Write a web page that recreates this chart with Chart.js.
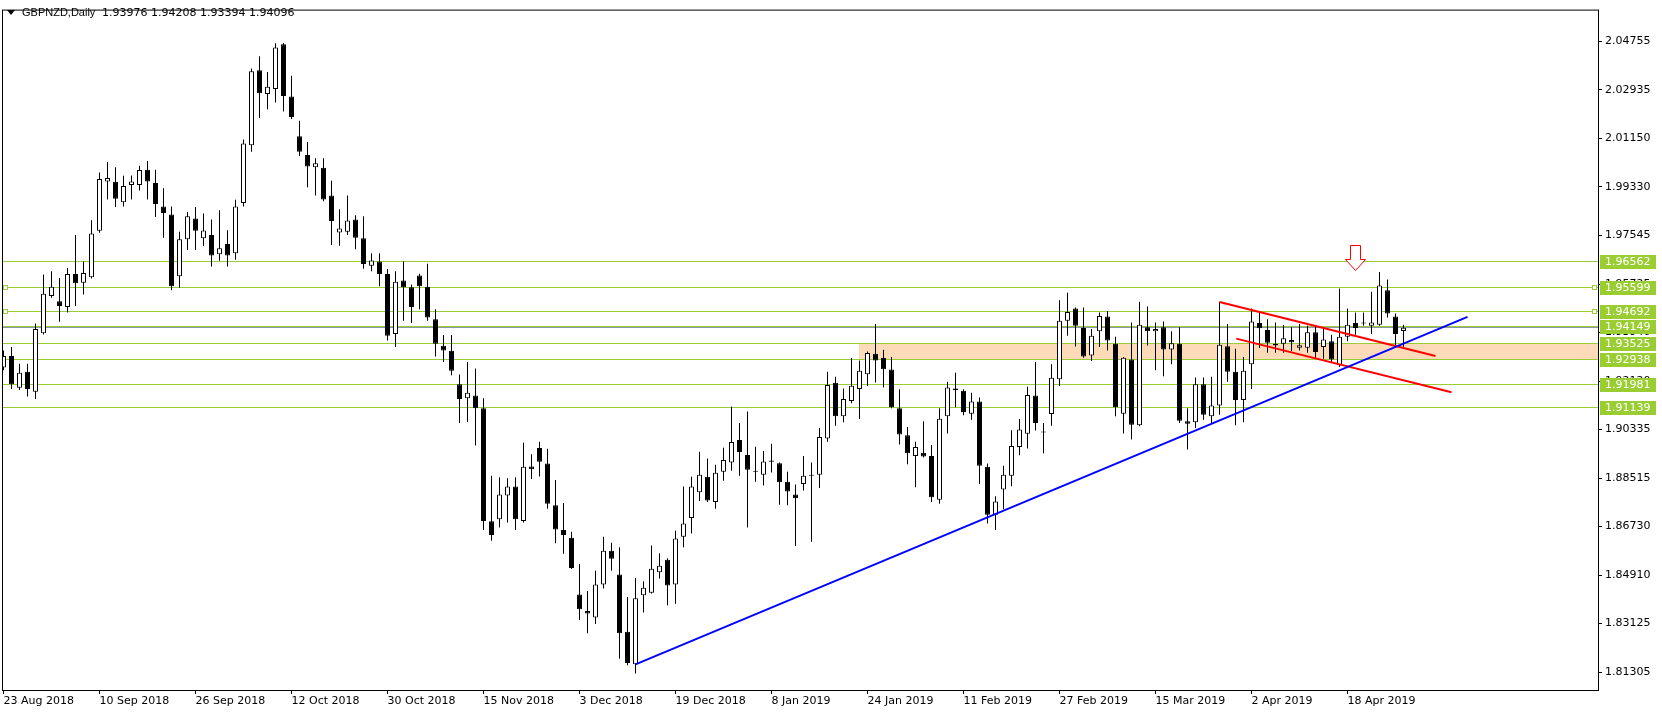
<!DOCTYPE html>
<html>
<head>
<meta charset="utf-8">
<title>GBPNZD Daily</title>
<script src="https://cdn.jsdelivr.net/npm/chart.js@4.4.1/dist/chart.umd.min.js"></script>
<style>
  html, body { margin: 0; padding: 0; background: #fff; }
  #wrap { width: 1662px; height: 714px; }
</style>
</head>
<body>
<div id="wrap"><canvas id="chart" width="1662" height="714"></canvas></div>
<script>
// daily candles, 23 Aug 2018 .. 29 Apr 2019 (index = trading day)
const opens = [
  1.92619, 1.93049, 1.91873, 1.92461, 1.91726, 1.93894, 1.95276, 1.95081, 1.94872, 1.96099,
  1.95769, 1.95974, 1.97702, 1.99539, 1.99528, 1.98767, 1.99407, 1.99407, 1.99969, 1.99480,
  1.98609, 1.98304, 1.96011, 1.97386, 1.98157, 1.97422, 1.97544, 1.96834, 1.97213, 1.96871,
  1.98731, 2.00877, 2.03670, 2.02788, 2.02972, 2.04636, 2.02689, 2.01219, 2.00520, 2.00068,
  2.00043, 1.99014, 1.97643, 1.97665, 1.98121, 1.97422, 1.96404, 1.96562, 1.96099, 1.93869,
  1.95853, 1.95607, 1.96037, 1.95622, 1.94420, 1.93428, 1.93244, 1.92005, 1.91480, 1.91579,
  1.91112, 1.86912, 1.86985, 1.87867, 1.88198, 1.86923, 1.88944, 1.89631, 1.89054, 1.87500,
  1.86581, 1.86298, 1.84192, 1.83579, 1.83332, 1.84560, 1.85809, 1.84927, 1.82807, 1.81594,
  1.84156, 1.84251, 1.85012, 1.85479, 1.84560, 1.86335, 1.87033, 1.87989, 1.88566, 1.87621,
  1.88749, 1.89091, 1.89925, 1.89374, 1.88786, 1.88639, 1.89165, 1.89065, 1.88382, 1.87904,
  1.88294, 1.88602, 1.88639, 1.89984, 1.92057, 1.90807, 1.91381, 1.91822, 1.92373, 1.93134,
  1.92976, 1.92546, 1.91112, 1.90109, 1.89337, 1.89459, 1.89337, 1.87706, 1.90807, 1.91847,
  1.91763, 1.90903, 1.91359, 1.88933, 1.87154, 1.88088, 1.88602, 1.89668, 1.90157, 1.91579,
  1.90249, 1.90892, 1.92189, 1.94357, 1.94813, 1.94089, 1.93071, 1.93968, 1.94519, 1.93501,
  1.90903, 1.92924, 1.90477, 1.94115, 1.93968, 1.94115, 1.93292, 1.93501, 1.90624, 1.90587,
  1.92005, 1.90807, 1.91212, 1.93416, 1.92461, 1.91417, 1.92740, 1.94273, 1.94016, 1.93501,
  1.93501, 1.93648, 1.93354, 1.93354, 1.93931, 1.93380, 1.93600, 1.92704, 1.93769, 1.94273,
  1.94299, 1.94174, 1.94210, 1.95497, 1.94519, 1.93976
];
const highs = [
  1.93255, 1.93380, 1.92766, 1.92766, 1.94262, 1.96074, 1.96195, 1.95952, 1.96320, 1.97544,
  1.96562, 1.98095, 1.99870, 2.00263, 2.00068, 1.99749, 1.99760, 2.00116, 2.00300, 1.99969,
  1.99282, 1.98609, 1.97665, 1.98400, 1.98584, 1.98341, 1.98121, 1.98462, 1.97727, 1.98856,
  2.01097, 2.03729, 2.04184, 2.03607, 2.04673, 2.04684, 2.03460, 2.01796, 2.00998, 2.00399,
  2.00399, 1.99565, 1.98499, 1.99014, 1.98279, 1.98242, 1.96871, 1.96871, 1.96283, 1.96195,
  1.96562, 1.95706, 1.96110, 1.96478, 1.94787, 1.93832, 1.93832, 1.92362, 1.92828, 1.92582,
  1.91480, 1.88602, 1.88540, 1.88503, 1.88540, 1.89826, 1.89396, 1.89863, 1.89606, 1.88440,
  1.87584, 1.86519, 1.85317, 1.84314, 1.85074, 1.86335, 1.86114, 1.85942, 1.84093, 1.84802,
  1.84681, 1.86004, 1.85721, 1.85537, 1.86555, 1.88198, 1.88566, 1.89495, 1.89238, 1.89007,
  1.89642, 1.91175, 1.90561, 1.90991, 1.89679, 1.89521, 1.89789, 1.89091, 1.88749, 1.88272,
  1.89337, 1.89091, 1.90377, 1.92461, 1.92277, 1.91847, 1.92976, 1.92887, 1.93218, 1.94236,
  1.93281, 1.93012, 1.91811, 1.90414, 1.89863, 1.90624, 1.89742, 1.91112, 1.92094, 1.92424,
  1.91811, 1.91689, 1.91506, 1.89054, 1.87842, 1.88970, 1.90293, 1.90708, 1.91910, 1.92828,
  1.90561, 1.92740, 1.95118, 1.95401, 1.94850, 1.94850, 1.94052, 1.94666, 1.94725, 1.93769,
  1.93012, 1.94299, 1.95070, 1.94887, 1.94299, 1.94335, 1.93968, 1.94115, 1.91112, 1.92252,
  1.92252, 1.92277, 1.95056, 1.94236, 1.93317, 1.93012, 1.94813, 1.94666, 1.94420, 1.94299,
  1.94199, 1.94115, 1.94236, 1.94174, 1.94199, 1.94052, 1.93843, 1.95559, 1.94813, 1.94666,
  1.94666, 1.95438, 1.96173, 1.95890, 1.94629, 1.94208
];
const lows = [
  1.92520, 1.91822, 1.91785, 1.91542, 1.91454, 1.93850, 1.95217, 1.94321, 1.94666, 1.94909,
  1.95339, 1.95927, 1.97628, 1.98867, 1.98584, 1.98609, 1.98867, 1.99197, 1.98867, 1.98216,
  1.97444, 1.95497, 1.95585, 1.96992, 1.96992, 1.97139, 1.96379, 1.96588, 1.96379, 1.96625,
  1.98609, 2.00642, 2.01891, 2.02222, 2.02468, 2.02137, 2.01854, 2.00484, 1.99319, 1.99014,
  1.98804, 1.97176, 1.97150, 1.97544, 1.97018, 1.96294, 1.96195, 1.95644, 1.93622, 1.93380,
  1.94357, 1.94273, 1.94787, 1.94357, 1.93034, 1.92828, 1.92336, 1.90561, 1.90598, 1.89727,
  1.86581, 1.86188, 1.86677, 1.86860, 1.86581, 1.86860, 1.88477, 1.88577, 1.87375, 1.86089,
  1.85699, 1.85133, 1.83237, 1.82744, 1.83090, 1.84413, 1.85074, 1.81804, 1.81557, 1.81252,
  1.83516, 1.84229, 1.84780, 1.83788, 1.83847, 1.85942, 1.86456, 1.87658, 1.87621, 1.87375,
  1.88419, 1.88786, 1.88602, 1.86677, 1.88382, 1.88235, 1.88724, 1.87522, 1.87500, 1.85993,
  1.88051, 1.86151, 1.88147, 1.89863, 1.90462, 1.90587, 1.91296, 1.90708, 1.91932, 1.92068,
  1.91884, 1.91112, 1.89764, 1.89029, 1.88172, 1.89275, 1.87621, 1.87559, 1.90168, 1.91149,
  1.90844, 1.90682, 1.88294, 1.86824, 1.86581, 1.87353, 1.88209, 1.89359, 1.89617, 1.90278,
  1.89433, 1.90462, 1.91932, 1.93806, 1.93402, 1.92987, 1.92865, 1.93380, 1.93255, 1.90807,
  1.90168, 1.89947, 1.90440, 1.93439, 1.92520, 1.92299, 1.92740, 1.90561, 1.89580, 1.90377,
  1.90682, 1.90535, 1.90866, 1.92094, 1.90476, 1.90587, 1.91822, 1.93343, 1.93170, 1.93170,
  1.93170, 1.93233, 1.93255, 1.93170, 1.92987, 1.92950, 1.92828, 1.92645, 1.93600, 1.93843,
  1.94174, 1.93869, 1.94174, 1.94482, 1.93416, 1.93394
];
const closes = [
  1.93049, 1.92005, 1.92424, 1.91822, 1.94052, 1.95364, 1.95622, 1.94909, 1.96099, 1.95754,
  1.96136, 1.97606, 1.99627, 1.99664, 1.98892, 1.99370, 1.99539, 1.99958, 1.99539, 1.98694,
  1.98363, 1.95644, 1.97386, 1.98242, 1.97702, 1.97716, 1.96783, 1.97055, 1.96783, 1.98609,
  2.00950, 2.03633, 2.02810, 2.03056, 2.04515, 2.02714, 2.01928, 2.00642, 2.00090, 2.00215,
  1.98867, 1.98069, 1.97790, 1.98084, 1.97444, 1.96467, 1.96599, 1.96099, 1.93806, 1.95805,
  1.95607, 1.94872, 1.95644, 1.94482, 1.93501, 1.93255, 1.92498, 1.91454, 1.91689, 1.91112,
  1.86923, 1.86397, 1.87904, 1.88198, 1.86985, 1.88933, 1.88845, 1.89117, 1.87559, 1.86603,
  1.86397, 1.85170, 1.83641, 1.83479, 1.84560, 1.85809, 1.85515, 1.82744, 1.81642, 1.84045,
  1.84435, 1.85148, 1.85258, 1.84523, 1.86272, 1.86824, 1.88198, 1.88639, 1.87684, 1.88713,
  1.89190, 1.89852, 1.89484, 1.88823, 1.88749, 1.89128, 1.89117, 1.88356, 1.88014, 1.87768,
  1.88602, 1.88605, 1.90036, 1.91969, 1.90807, 1.91454, 1.91947, 1.92498, 1.93159, 1.92887,
  1.92557, 1.91149, 1.90131, 1.89433, 1.89668, 1.89312, 1.87805, 1.90719, 1.91884, 1.91785,
  1.90965, 1.91359, 1.88970, 1.87154, 1.87647, 1.88639, 1.89705, 1.90315, 1.91601, 1.90561,
  1.90212, 1.92241, 1.94357, 1.94688, 1.94174, 1.93034, 1.93806, 1.94541, 1.93622, 1.91149,
  1.92987, 1.90499, 1.94210, 1.93968, 1.94052, 1.93292, 1.93527, 1.90646, 1.90535, 1.92005,
  1.90866, 1.91212, 1.93464, 1.92461, 1.91417, 1.92498, 1.94335, 1.94078, 1.93538, 1.93439,
  1.93711, 1.93564, 1.93453, 1.93931, 1.93196, 1.93659, 1.92924, 1.93769, 1.94210, 1.94089,
  1.94262, 1.94299, 1.95669, 1.94629, 1.93869, 1.94096
];

// time axis labels, one every 12 bars
const dateTicks = ['23 Aug 2018', '10 Sep 2018', '26 Sep 2018', '12 Oct 2018', '30 Oct 2018',
  '15 Nov 2018', '3 Dec 2018', '19 Dec 2018', '8 Jan 2019', '24 Jan 2019', '11 Feb 2019',
  '27 Feb 2019', '15 Mar 2019', '2 Apr 2019', '18 Apr 2019'];
const dateTickIdx = dateTicks.map((_, i) => i * 12);

// price scale labels
const priceTicks = [2.04755, 2.02935, 2.01150, 1.99330, 1.97545, 1.95725, 1.93940, 1.92120,
  1.90335, 1.88515, 1.86730, 1.84910, 1.83125, 1.81305];

// horizontal levels drawn on the chart
const levels = [1.96562, 1.95599, 1.94692, 1.94149, 1.93525, 1.92938, 1.91981, 1.91139];
const markedLevels = [1.95599, 1.94692];
const zone = { fromIdx: 107, top: 1.93525, bottom: 1.92938 };

// trend lines [bar index, price]
const blueTrend = [[79, 1.81594], [183, 1.94505]];
const redUpper = [[152, 1.95056], [179, 1.93049]];
const redLower = [[154.1, 1.93696], [181, 1.91700]];
const arrowMark = { idx: 169, price: 1.97150 };

const lastBar = opens.length - 1;
const idx = opens.map((_, i) => i);

const wickData = idx.map(i => ({ x: i, y: [lows[i], highs[i]] }));
const bodyData = idx.map(i => ({ x: i, y: [Math.min(opens[i], closes[i]), Math.max(opens[i], closes[i])] }));
const bodyFill = idx.map(i => closes[i] >= opens[i] ? '#ffffff' : '#000000');
const toPts = arr => arr.map(p => ({ x: p[0], y: p[1] }));

const GREEN = '#9acd32';
const axisFont = { family: 'DejaVu Sans', size: 11 };

const overlay = {
  id: 'overlay',
  beforeDatasetsDraw(chart) {
    const { ctx, chartArea: a, scales: { x, y } } = chart;
    ctx.save();
    ctx.beginPath();
    ctx.rect(a.left, a.top, a.right - a.left, a.bottom - a.top);
    ctx.clip();

    // support zone
    const zx = Math.round(x.getPixelForValue(zone.fromIdx));
    const zt = Math.floor(y.getPixelForValue(zone.top));
    const zb = Math.floor(y.getPixelForValue(zone.bottom));
    ctx.fillStyle = '#fddbb9';
    ctx.fillRect(zx, zt, a.right - zx, zb - zt);

    // bid line
    const by = Math.floor(y.getPixelForValue(closes[lastBar])) + 0.5;
    ctx.strokeStyle = '#8a97a8';
    ctx.lineWidth = 1;
    ctx.beginPath(); ctx.moveTo(a.left, by); ctx.lineTo(a.right, by); ctx.stroke();

    // levels
    ctx.strokeStyle = GREEN;
    levels.forEach(v => {
      const py = Math.floor(y.getPixelForValue(v)) + 0.5;
      ctx.beginPath(); ctx.moveTo(a.left, py); ctx.lineTo(a.right, py); ctx.stroke();
    });
    ctx.fillStyle = '#fff';
    markedLevels.forEach(v => {
      const py = Math.floor(y.getPixelForValue(v)) + 0.5;
      [a.left + 1.5, a.right - 5.5].forEach(sx => {
        ctx.fillRect(sx, py - 2, 4, 4);
        ctx.strokeRect(sx, py - 2, 4, 4);
      });
    });
    ctx.restore();
  },
  afterDatasetsDraw(chart) {
    const { ctx, scales: { x, y } } = chart;
    // red down arrow
    const px = Math.floor(x.getPixelForValue(arrowMark.idx)) + 0.5;
    const py = Math.floor(y.getPixelForValue(arrowMark.price)) + 0.5;
    ctx.save();
    ctx.beginPath();
    ctx.moveTo(px - 5, py);
    ctx.lineTo(px + 5, py);
    ctx.lineTo(px + 5, py + 14);
    ctx.lineTo(px + 10, py + 14);
    ctx.lineTo(px, py + 25);
    ctx.lineTo(px - 10, py + 14);
    ctx.lineTo(px - 5, py + 14);
    ctx.closePath();
    ctx.fillStyle = '#ffffff';
    ctx.fill();
    ctx.strokeStyle = '#ff0000';
    ctx.lineWidth = 1;
    ctx.stroke();
    ctx.restore();
  },
  afterDraw(chart) {
    const { ctx, chartArea: a, scales: { y } } = chart;
    ctx.save();
    // frame
    ctx.strokeStyle = '#000';
    ctx.lineWidth = 1;
    ctx.strokeRect(a.left + 0.5, a.top + 0.5, a.right - a.left, a.bottom - a.top);

    // level price boxes on the scale
    ctx.font = '11px "DejaVu Sans"';
    ctx.textBaseline = 'middle';
    ctx.textAlign = 'left';
    levels.forEach(v => {
      const py = Math.floor(y.getPixelForValue(v));
      ctx.fillStyle = GREEN;
      ctx.fillRect(a.right + 2, py - 6, 56, 14);
      ctx.fillStyle = '#ffffff';
      ctx.fillText(v.toFixed(5), a.right + 7, py + 1);
    });

    // title
    ctx.fillStyle = '#000';
    ctx.beginPath();
    ctx.moveTo(7, 10); ctx.lineTo(15, 10); ctx.lineTo(11, 15); ctx.closePath();
    ctx.fill();
    ctx.font = '11px "Liberation Sans"';
    ctx.fillText('GBPNZD,Daily', 22, 13);
    ctx.font = '11px "DejaVu Sans"';
    const ohlc = [opens[lastBar], highs[lastBar], lows[lastBar], closes[lastBar]].map(v => v.toFixed(5)).join(' ');
    ctx.fillText(ohlc, 102, 13);
    ctx.restore();
  }
};

new Chart(document.getElementById('chart'), {
  type: 'bar',
  data: {
    datasets: [
      {
        type: 'line', data: toPts(blueTrend), borderColor: '#0000ff', borderWidth: 2,
        pointRadius: 0, fill: false, order: 0
      },
      {
        type: 'line', data: toPts(redUpper), borderColor: '#ff0000', borderWidth: 2,
        pointRadius: 0, fill: false, order: 0
      },
      {
        type: 'line', data: toPts(redLower), borderColor: '#ff0000', borderWidth: 2,
        pointRadius: 0, fill: false, order: 0
      },
      {
        data: bodyData, backgroundColor: bodyFill, borderColor: '#000', borderWidth: 1,
        borderSkipped: false, barThickness: 5, minBarLength: 1, grouped: false,
        inflateAmount: 0, order: 1
      },
      {
        data: wickData, backgroundColor: '#000', borderWidth: 0, barThickness: 1,
        grouped: false, inflateAmount: 0, order: 2
      }
    ]
  },
  options: {
    responsive: false,
    animation: false,
    events: [],
    layout: { padding: { left: 2, top: 2, right: 0, bottom: 0 } },
    plugins: { legend: { display: false }, tooltip: { enabled: false } },
    scales: {
      x: {
        type: 'linear', position: 'bottom', offset: false,
        min: -0.1875, max: 199.3125,
        afterFit: s => { s.height = 24; },
        afterBuildTicks: s => { s.ticks = dateTickIdx.map(v => ({ value: v })); },
        ticks: {
          align: 'start', autoSkip: false, maxRotation: 0, padding: 1, color: '#000',
          font: axisFont, callback: (v, i) => dateTicks[i]
        },
        grid: { offset: false, drawOnChartArea: false, drawTicks: true, tickLength: 4, color: '#000' },
        border: { display: false }
      },
      y: {
        type: 'linear', position: 'right', beginAtZero: false,
        min: 1.80639, max: 2.05922,
        afterFit: s => { s.width = 64; },
        afterBuildTicks: s => { s.ticks = priceTicks.map(v => ({ value: v })); },
        ticks: {
          autoSkip: false, padding: 3, color: '#000', font: axisFont,
          callback: v => v.toFixed(5)
        },
        grid: { drawOnChartArea: false, drawTicks: true, tickLength: 4, color: '#000' },
        border: { display: false }
      }
    }
  },
  plugins: [overlay]
});
</script>
</body>
</html>
